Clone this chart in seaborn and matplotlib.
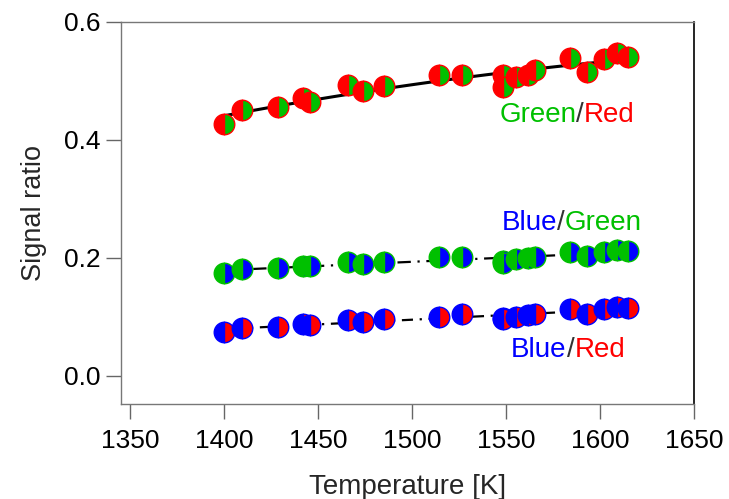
import numpy as np
import pandas as pd
import matplotlib
matplotlib.use("Agg")
import matplotlib.pyplot as plt
import seaborn as sns

# ---- data ----
temps = [1400, 1409.6, 1428.7, 1442, 1445.7, 1466, 1474, 1485, 1514.4, 1526.6,
         1548.4, 1548.4, 1555.3, 1561.7, 1565.4, 1584, 1593, 1602, 1609, 1615]
green_red = [0.427, 0.451, 0.456, 0.471, 0.464, 0.493, 0.483, 0.492, 0.510, 0.510,
             0.510, 0.490, 0.507, 0.510, 0.519, 0.539, 0.515, 0.537, 0.547, 0.541]
blue_green = [0.175, 0.181, 0.183, 0.186, 0.186, 0.193, 0.190, 0.193, 0.202, 0.202,
              0.195, 0.191, 0.198, 0.200, 0.202, 0.210, 0.203, 0.210, 0.213, 0.211]
blue_red = [0.075, 0.081, 0.083, 0.088, 0.086, 0.095, 0.092, 0.097, 0.100, 0.105,
            0.098, 0.096, 0.100, 0.103, 0.105, 0.113, 0.105, 0.113, 0.117, 0.115]

x_ticks = [1350, 1400, 1450, 1500, 1550, 1600, 1650]
y_ticks = [0.0, 0.2, 0.4, 0.6]

GREEN = "#00c000"
RED = "#ff0000"
BLUE = "#0000ff"

df = pd.DataFrame({"T": temps, "GR": green_red, "BG": blue_green, "BR": blue_red})

sns.set_style("white")
plt.rcParams["font.family"] = ["Liberation Sans", "DejaVu Sans"]

fig = plt.figure(figsize=(7.29, 4.99), dpi=100)
ax = fig.add_axes([0.166, 0.1904, 0.786, 0.7656])

# fit lines
sns.regplot(data=df, x="T", y="GR", scatter=False, ci=None, ax=ax, order=2,
            line_kws=dict(color="black", lw=2.2, ls="-", zorder=1))
sns.regplot(data=df, x="T", y="BG", scatter=False, ci=None, ax=ax,
            line_kws=dict(color="black", lw=1.6, ls=(0, (6, 3, 1, 3)), zorder=1))
sns.regplot(data=df, x="T", y="BR", scatter=False, ci=None, ax=ax,
            line_kws=dict(color="black", lw=1.6, ls=(0, (5, 3, 1, 3, 1, 3)), zorder=1))

# split (half/half) circle markers
series = [("GR", RED, GREEN), ("BG", GREEN, BLUE), ("BR", BLUE, RED)]
for col, left_c, right_c in series:
    for t, v in zip(df["T"], df[col]):
        ax.plot([t], [v], ls="none", marker="o", ms=14.8, fillstyle="left",
                markerfacecolor=left_c, markerfacecoloralt=right_c,
                markeredgecolor=left_c, markeredgewidth=1.0, zorder=3)

ax.set_xlim(1345, 1650)
ax.set_ylim(-0.0475, 0.6)
ax.set_xticks(x_ticks)
ax.set_yticks(y_ticks)
ax.set_yticklabels([f"{v:.1f}" for v in y_ticks])
ax.set_xlabel("Temperature [K]", fontsize=20, labelpad=15)
ax.set_ylabel("Signal ratio", fontsize=19.5, labelpad=12)

ax.tick_params(axis="both", direction="out", length=11, width=1.0,
               color="#666666", labelsize=19, labelcolor="black")
ax.tick_params(axis="x", bottom=True, pad=7)
ax.tick_params(axis="y", left=True, pad=4)
for side in ["left", "top", "bottom"]:
    ax.spines[side].set_color("#777777")
    ax.spines[side].set_linewidth(1.0)
ax.spines["right"].set_color("black")
ax.spines["right"].set_linewidth(1.2)


def colored_label(x, y, parts):
    first = ax.text(x, y, parts[0][0], color=parts[0][1], fontsize=20,
                    va="center", ha="left", zorder=4)
    prev = first
    for txt, c in parts[1:]:
        prev = ax.annotate(txt, xy=(1, 0), xycoords=prev, va="bottom", ha="left",
                           color=c, fontsize=20, zorder=4)


colored_label(1546.3, 0.442, [("Green", GREEN), ("/", "#333333"), ("Red", RED)])
colored_label(1547.4, 0.259, [("Blue", BLUE), ("/", "#333333"), ("Green", GREEN)])
colored_label(1552.7, 0.044, [("Blue", BLUE), ("/", "#333333"), ("Red", RED)])

fig.savefig("out.png", dpi=100)
